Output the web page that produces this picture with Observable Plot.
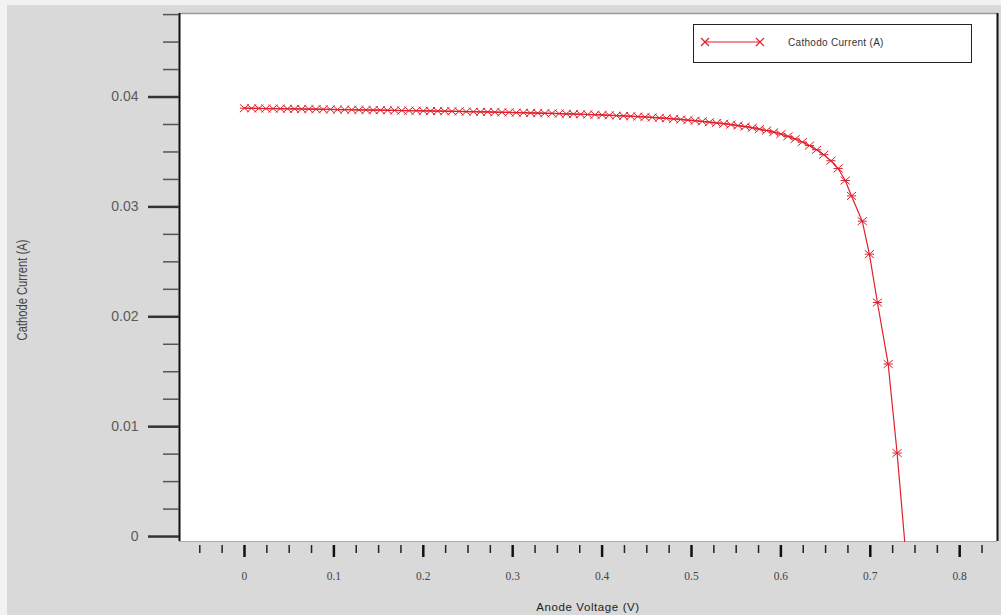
<!DOCTYPE html>
<html>
<head>
<meta charset="utf-8">
<script src="https://cdn.jsdelivr.net/npm/d3@7"></script>
<script src="https://cdn.jsdelivr.net/npm/@observablehq/plot@0.6"></script>
<style>
  html, body { margin: 0; padding: 0; background: #f2f2f2; }
  #wrap { position: relative; width: 1001px; height: 615px; overflow: hidden; }
  #bg { position: absolute; left: 7px; top: 5px; right: 0; bottom: 0; background: #d9d9d9; }
  #chart { position: absolute; left: 0; top: 0; }
  .ttl { position: absolute; font-family: "Liberation Sans", Arial, sans-serif; color: #333; white-space: nowrap; }
  #ytitle { left: 22px; top: 290px; transform: translate(-50%, -50%) rotate(-90deg) scale(0.8, 1); font-size: 14px; color: #444; }
  #xtitle { left: 588px; top: 607px; transform: translate(-50%, -50%); font-size: 11.5px; letter-spacing: 0.6px; color: #222; }
  #legend { position: absolute; left: 693px; top: 24px; width: 277px; height: 37px; border: 1.5px solid #222; background: #fff; }
  #legend span { position: absolute; left: 94px; top: 12px; font-family: "Liberation Sans", Arial, sans-serif; font-size: 10px; letter-spacing: 0.3px; color: #333; white-space: nowrap; }
  #legend svg { position: absolute; left: 0; top: 0; }
</style>
</head>
<body>
<div id="wrap">
  <div id="bg"></div>
  <div id="chart"></div>
  <div class="ttl" id="ytitle">Cathode Current (A)</div>
  <div class="ttl" id="xtitle">Anode Voltage (V)</div>
  <div id="legend">
    <svg width="90" height="37">
      <line x1="11" y1="17" x2="66" y2="17" stroke="#e0202a" stroke-width="1"/>
      <path d="M7,13L15,21M7,21L15,13M62,13L70,21M62,21L70,13" stroke="#e0202a" stroke-width="1.2" fill="none"/>
    </svg>
    <span>Cathodo Current (A)</span>
  </div>
</div>
<script>
// Anode voltage sweep (V)
const voltage = [
  0.000, 0.008, 0.016, 0.024, 0.032, 0.040, 0.048, 0.056, 0.064, 0.072,
  0.080, 0.088, 0.096, 0.104, 0.112, 0.120, 0.128, 0.136, 0.144, 0.152,
  0.160, 0.168, 0.176, 0.184, 0.192, 0.200, 0.208, 0.216, 0.224, 0.232,
  0.240, 0.248, 0.256, 0.264, 0.272, 0.280, 0.288, 0.296, 0.304, 0.312,
  0.320, 0.328, 0.336, 0.344, 0.352, 0.360, 0.368, 0.376, 0.384, 0.392,
  0.400, 0.408, 0.416, 0.424, 0.432, 0.440, 0.448, 0.456, 0.464, 0.472,
  0.480, 0.488, 0.496, 0.504, 0.512, 0.520, 0.528, 0.536, 0.544, 0.552,
  0.560, 0.568, 0.576, 0.584, 0.592, 0.600, 0.608, 0.616, 0.624, 0.632,
  0.640, 0.648, 0.656, 0.664, 0.672, 0.679, 0.691, 0.699, 0.708, 0.720,
  0.730, 0.7385
];
// Cathode current (A)
const current = [
  0.03898, 0.03897, 0.03896, 0.03895, 0.03895, 0.03894, 0.03893, 0.03892, 0.03891, 0.03890,
  0.03889, 0.03888, 0.03887, 0.03886, 0.03885, 0.03884, 0.03883, 0.03882, 0.03881, 0.03880,
  0.03879, 0.03878, 0.03877, 0.03876, 0.03875, 0.03874, 0.03873, 0.03872, 0.03871, 0.03870,
  0.03869, 0.03867, 0.03866, 0.03865, 0.03864, 0.03862, 0.03861, 0.03860, 0.03858, 0.03857,
  0.03855, 0.03854, 0.03852, 0.03851, 0.03849, 0.03847, 0.03845, 0.03843, 0.03841, 0.03839,
  0.03837, 0.03834, 0.03831, 0.03828, 0.03825, 0.03822, 0.03818, 0.03814, 0.03810, 0.03806,
  0.03801, 0.03796, 0.03790, 0.03784, 0.03778, 0.03771, 0.03764, 0.03757, 0.03749, 0.03740,
  0.03731, 0.03720, 0.03708, 0.03695, 0.03680, 0.03663, 0.03642, 0.03618, 0.03590, 0.03558,
  0.03520, 0.03475, 0.03420, 0.03350, 0.03240, 0.03100, 0.02870, 0.02570, 0.02130, 0.01570,
  0.00760, -0.00045
];

const xDomain = [-0.0727, 0.8423];
const yDomain = [-0.00045, 0.0476];
const xMajor = [0, 0.1, 0.2, 0.3, 0.4, 0.5, 0.6, 0.7, 0.8];
const xMinor = [-0.05, -0.025, 0.025, 0.05, 0.075, 0.125, 0.15, 0.175, 0.225, 0.25, 0.275,
  0.325, 0.35, 0.375, 0.425, 0.45, 0.475, 0.525, 0.55, 0.575, 0.625, 0.65, 0.675,
  0.725, 0.75, 0.775, 0.825];
const yMajor = [0, 0.01, 0.02, 0.03, 0.04];
const yMinor = [0.0025, 0.005, 0.0075, 0.0125, 0.015, 0.0175, 0.0225, 0.025, 0.0275,
  0.0325, 0.035, 0.0375, 0.0425, 0.045, 0.0475];

const red = "#e0202a";
const data = voltage.map((v, i) => ({v, c: current[i]}));
const markers = data.slice(0, data.length - 1);

// X crossed by a horizontal bar
const starX = {
  draw(ctx, size) {
    const r = Math.sqrt(size / Math.PI);
    const h = r * 0.85;
    ctx.moveTo(-r, -h); ctx.lineTo(r, h);
    ctx.moveTo(-r, h); ctx.lineTo(r, -h);
    ctx.moveTo(-r, 0); ctx.lineTo(r, 0);
  }
};
const none = () => "";

const chart = Plot.plot({
  width: 1001, height: 615,
  marginLeft: 179, marginRight: 4, marginTop: 13, marginBottom: 74,
  x: {domain: xDomain},
  y: {domain: yDomain},
  style: {background: "transparent", overflow: "visible"},
  marks: [
    Plot.frame({fill: "white", stroke: null}),
    Plot.ruleY([yDomain[1]], {stroke: "#9a9a9a", strokeWidth: 1.5}),
    Plot.ruleY([yDomain[0]], {stroke: "#aaaaaa", strokeWidth: 1}),
    Plot.ruleX([xDomain[1]], {stroke: "#111", strokeWidth: 2}),
    Plot.line(data, {x: "v", y: "c", stroke: red, strokeWidth: 1.2}),
    Plot.dot(markers, {x: "v", y: "c", symbol: starX, r: 4.6, stroke: red, strokeWidth: 1, fill: "none"}),
    Plot.ruleX([xDomain[0]], {stroke: "#111", strokeWidth: 2}),
    Plot.axisY(yMinor, {anchor: "left", tickSize: 16, stroke: "#555", strokeWidth: 1.5, tickFormat: none, label: null}),
    Plot.axisY(yMajor, {anchor: "left", tickSize: 31, tickPadding: 10, tickFormat: d => String(d),
      stroke: "#333", strokeWidth: 2.5, label: null,
      fontSize: 14, fill: "#5a5a5a", fontFamily: "Liberation Sans, Arial, sans-serif"}),
    Plot.axisX(xMinor, {anchor: "bottom", tickSize: 8, dy: 4, stroke: "#222", strokeWidth: 1.5, tickFormat: none, label: null}),
    Plot.axisX(xMajor, {anchor: "bottom", tickSize: 12, dy: 4, stroke: "#111", strokeWidth: 2.5, tickFormat: none, label: null}),
    Plot.axisX(xMajor, {anchor: "bottom", tickSize: 0, tickPadding: 30, tickFormat: d => String(d), label: null,
      fontSize: 11.5, fill: "#444", fontFamily: "Liberation Serif, DejaVu Serif, serif", letterSpacing: 1})
  ]
});
document.getElementById("chart").appendChild(chart);
</script>
</body>
</html>
